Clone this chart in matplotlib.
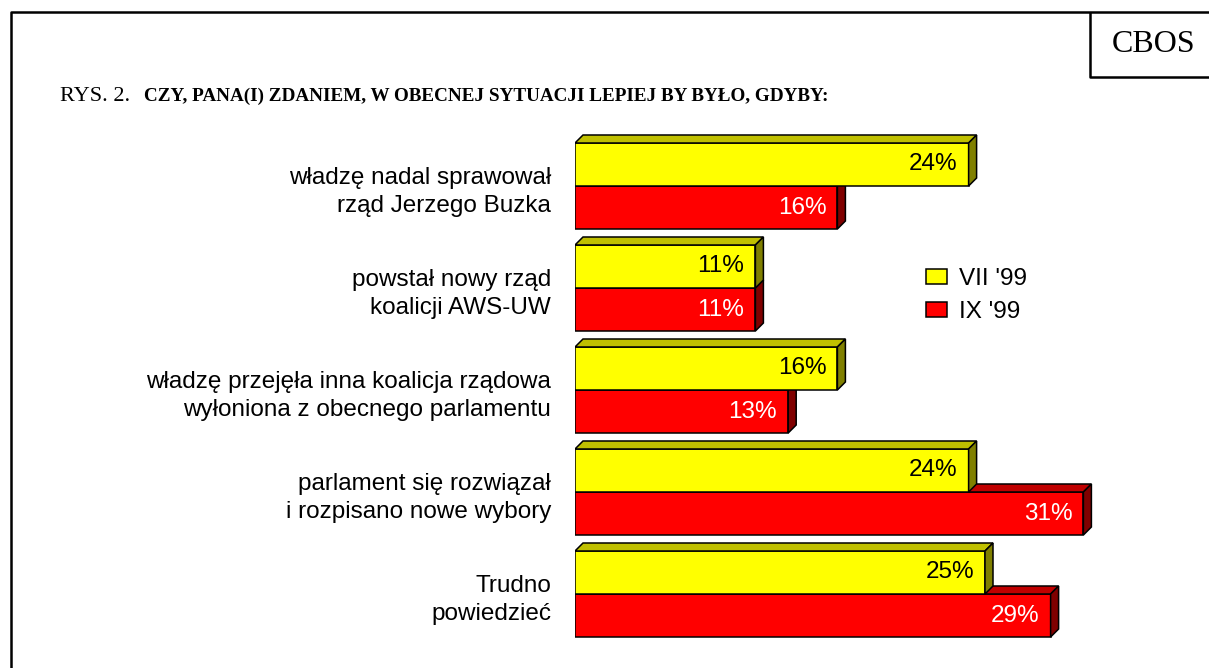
import matplotlib
matplotlib.use("Agg")
import matplotlib.pyplot as plt
from matplotlib.patches import Polygon, Patch

categories = [
    "władzę nadal sprawował\nrząd Jerzego Buzka",
    "powstał nowy rząd\nkoalicji AWS-UW",
    "władzę przejęła inna koalicja rządowa\nwyłoniona z obecnego parlamentu",
    "parlament się rozwiązał\ni rozpisano nowe wybory",
    "Trudno\npowiedzieć",
]
series_names = ["VII '99", "IX '99"]
vii_99 = [24, 11, 16, 24, 25]
ix_99 = [16, 11, 13, 31, 29]

W, H = 1209, 668
FRONT = {"VII '99": "#ffff00", "IX '99": "#ff0000"}
TOP = {"VII '99": "#c0c000", "IX '99": "#c00000"}
SIDE = {"VII '99": "#808000", "IX '99": "#800000"}
TEXT = {"VII '99": "black", "IX '99": "white"}

fig = plt.figure(figsize=(W / 100, H / 100), dpi=100)

# frame and CBOS box, in pixel coordinates
bg = fig.add_axes([0, 0, 1, 1])
bg.set_xlim(0, W)
bg.set_ylim(H, 0)
bg.axis("off")
bg.plot([11, 11, W], [H, 12, 12], color="black", lw=1.8, solid_capstyle="butt")
bg.plot([1090, 1090, W], [12, 77, 77], color="black", lw=1.8, solid_capstyle="butt")
bg.text(1154, 44, "CBOS", family="Liberation Serif", fontsize=23, ha="center", va="center")
bg.text(60, 101, "RYS. 2.", family="Liberation Serif", fontsize=16, va="baseline")
bg.text(144, 101, "CZY, PANA(I) ZDANIEM, W OBECNEJ SYTUACJI LEPIEJ BY BYŁO, GDYBY:",
        family="Liberation Serif", fontweight="bold", fontsize=13.8, va="baseline")

# bar axes: x=0 at pixel 575, 16.4 px per percent, 102 px per group
x0, px_per_pct = 575, 16.4
top_px, px_per_group, center0 = 110, 102, 186
ax = fig.add_axes([x0 / W, 0, (W - x0) / W, (H - top_px) / H])
ax.set_xlim(0, (W - x0) / px_per_pct)
ax.set_ylim((H - center0) / px_per_group, (top_px - center0) / px_per_group)
ax.axis("off")

h = 43 / px_per_group
dx = 8 / px_per_pct
dy = 8 / px_per_group


def bar3d(y_top, y_bot, val, name):
    ax.barh((y_top + y_bot) / 2, val, height=y_bot - y_top, color=FRONT[name],
            edgecolor="black", linewidth=1.1)
    top = [(0, y_top), (dx, y_top - dy), (val + dx, y_top - dy), (val, y_top)]
    side = [(val, y_top), (val + dx, y_top - dy), (val + dx, y_bot - dy), (val, y_bot)]
    ax.add_patch(Polygon(top, closed=True, facecolor=TOP[name], edgecolor="black", lw=1.1))
    ax.add_patch(Polygon(side, closed=True, facecolor=SIDE[name], edgecolor="black", lw=1.1))
    ax.text(val - 11 / px_per_pct, (y_top + y_bot) / 2, f"{val}%", ha="right", va="center",
            color=TEXT[name], fontsize=17.5, family="Liberation Sans")


for i, (a, b) in enumerate(zip(vii_99, ix_99)):
    bar3d(i, i + h, b, series_names[1])
    bar3d(i - h, i, a, series_names[0])
    bg.text(551, center0 + i * px_per_group + 6, categories[i], ha="right", va="center",
            multialignment="right", fontsize=17.5, family="Liberation Sans", linespacing=1.35)

handles = [Patch(facecolor=FRONT[n], edgecolor="black", lw=1.1) for n in series_names]
fig.legend(handles, series_names, loc="upper left", bbox_to_anchor=(926 / W, 1 - 268 / H),
           frameon=False, borderpad=0, borderaxespad=0, handlelength=0.86, handleheight=0.55,
           handletextpad=0.5, labelspacing=0.45, prop={"family": "Liberation Sans", "size": 17.5})

fig.savefig("out.png", dpi=100)
